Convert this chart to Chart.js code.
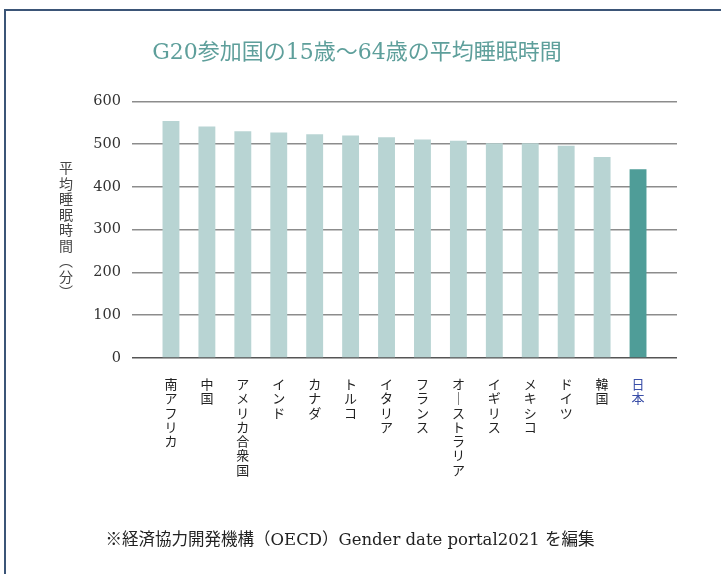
<!DOCTYPE html>
<html lang="ja">
<head>
<meta charset="utf-8">
<script src="https://cdn.jsdelivr.net/npm/chart.js@4"></script>
<style>
  html, body { margin: 0; padding: 0; background: #fff; }
  #wrap { position: relative; width: 721px; height: 574px; overflow: hidden; }
  #frame { position: absolute; left: 4px; top: 9px; width: 800px; height: 700px;
           border-left: 2px solid #3b5577; border-top: 2px solid #3b5577; }
  #chartBox { position: absolute; left: 0; top: 0; width: 721px; height: 574px; }
  #yTitle { position: absolute; left: 59px; top: 161px; writing-mode: vertical-rl;
            font: 14px 'Noto Sans CJK JP', sans-serif; color: #444; line-height: 1;
            letter-spacing: 1.5px; }
  #note { position: absolute; left: 0; width: 700px; top: 526px; text-align: center;
          font: 16.5px 'DejaVu Serif', 'Noto Sans CJK JP', serif; color: #222; }
</style>
</head>
<body>
<div id="wrap">
  <div id="frame"></div>
  <div id="chartBox"><canvas id="sleepChart" width="721" height="574"></canvas></div>
  <div id="yTitle">平均睡眠時間（分）</div>
  <div id="note">※経済協力開発機構（OECD）Gender date portal2021 を編集</div>
</div>
<script>
// G20 countries, average sleep minutes (age 15-64)
const countries = ['南アフリカ', '中国', 'アメリカ合衆国', 'インド', 'カナダ', 'トルコ', 'イタリア',
                   'フランス', 'オーストラリア', 'イギリス', 'メキシコ', 'ドイツ', '韓国', '日本'];
const sleepMinutes = [554, 541, 530, 527, 523, 520, 516, 511, 508, 502, 502, 496, 470, 441];
const yTicks = [0, 100, 200, 300, 400, 500, 600];

const highlight = '日本';
const isJapan = i => countries[i] === highlight;

// stack the characters for vertical labels
function verticalLabel(text) {
    return Array.from(text).map(ch => ch === 'ー' ? '｜' : ch);
}

const yCommon = {
    min: yTicks[0],
    max: yTicks[yTicks.length - 1],
    afterBuildTicks: axis => { axis.ticks = yTicks.map(v => ({ value: v })); },
    border: { display: false }
};

window.onload = function() {
    const ctx = document.getElementById('sleepChart').getContext('2d');
    new Chart(ctx, {
        type: 'bar',
        data: {
            labels: countries,
            datasets: [{
                data: sleepMinutes,
                backgroundColor: c => isJapan(c.dataIndex) ? '#4f9d98' : '#b8d4d3',
                borderWidth: 0,
                categoryPercentage: 1,
                barPercentage: 0.47
            }]
        },
        options: {
            responsive: false,
            animation: false,
            devicePixelRatio: 1,
            layout: { padding: { left: 37, right: 44, bottom: 78, top: 0 } },
            plugins: {
                legend: { display: false },
                tooltip: { enabled: false },
                title: {
                    display: true,
                    text: 'G20参加国の15歳～64歳の平均睡眠時間',
                    color: '#5e9f9b',
                    font: { family: "'DejaVu Serif', 'Noto Sans CJK JP', serif", size: 22, weight: 'normal', lineHeight: 1.2 },
                    padding: { top: 40, bottom: 35 }
                }
            },
            scales: {
                x: {
                    grid: { display: false, drawTicks: false },
                    border: { display: false },
                    ticks: {
                        autoSkip: false,
                        maxRotation: 0,
                        minRotation: 0,
                        padding: 19,
                        color: c => isJapan(c.index) ? '#3a4fa8' : '#222',
                        font: { family: "'Noto Sans CJK JP', sans-serif", size: 13, lineHeight: 1.1 },
                        callback: function(value) { return verticalLabel(this.getLabelForValue(value)); }
                    }
                },
                y: {
                    ...yCommon,
                    position: 'left',
                    z: 1,
                    afterFit: axis => { axis.width = 116; },
                    grid: {
                        color: c => c.tick && c.tick.value === 0 ? '#555' : '#8c8c8c',
                        lineWidth: 1.5,
                        tickLength: 21,
                        drawTicks: true
                    },
                    ticks: {
                        padding: 11,
                        color: '#333',
                        font: { family: "'DejaVu Serif', serif", size: 14.5 }
                    }
                },
                yRight: {
                    ...yCommon,
                    position: 'right',
                    z: 1,
                    afterFit: axis => { axis.width = 21; },
                    grid: {
                        drawOnChartArea: false,
                        color: c => c.tick && c.tick.value === 0 ? '#555' : '#8c8c8c',
                        lineWidth: 1.5,
                        tickLength: 21
                    },
                    ticks: { display: false }
                }
            }
        }
    });
};
</script>
</body>
</html>
